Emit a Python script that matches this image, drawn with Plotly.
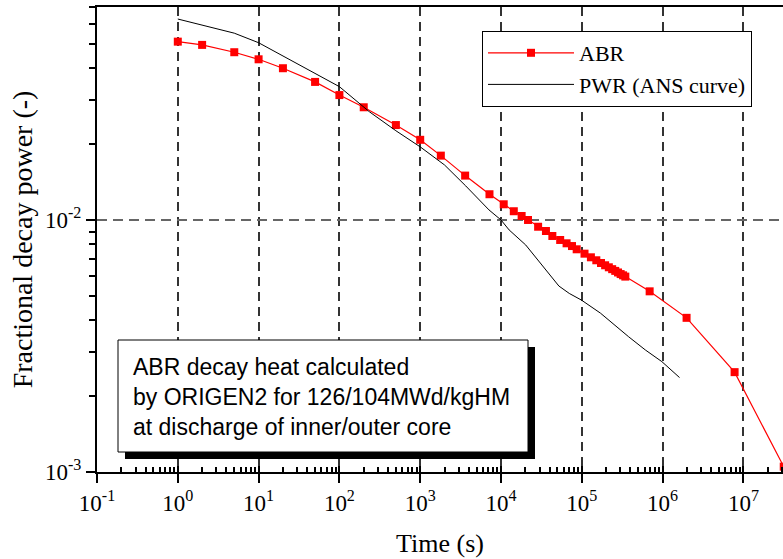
import plotly.graph_objects as go

# ---- data ----
abr_t = [1, 2, 5, 10, 20, 50, 100, 200, 500, 1000, 1800, 3600, 7200, 10800, 14400,
         18000, 21600, 28800, 36000, 43200, 54000, 64800, 75600, 86400, 108000,
         129600, 151200, 172800, 194400, 216000, 237600, 259200, 280800, 302400,
         324000, 345600, 691200, 1.98e6, 7.78e6, 3.156e7]
abr_p = [0.0510, 0.0495, 0.0463, 0.0434, 0.0400, 0.0353, 0.0313, 0.0280, 0.0238,
         0.0208, 0.0180, 0.0150, 0.01265, 0.01154, 0.01083, 0.01037, 0.0100,
         0.00940, 0.00904, 0.00864, 0.00833, 0.00808, 0.00788, 0.00765, 0.00735,
         0.00711, 0.00692, 0.00675, 0.00661, 0.00649, 0.00638, 0.00628, 0.00619,
         0.00610, 0.00603, 0.00596, 0.00521, 0.00409, 0.00249, 0.00105]

pwr_t = [1, 2, 5, 10, 20, 50, 100, 234, 500, 1000, 2000, 3660, 7100, 10000, 12600,
         20200, 32400, 42000, 52000, 70000, 99000, 170000, 315000, 380000, 611000,
         980000, 1.62e6]
pwr_p = [0.0627, 0.0594, 0.0551, 0.0505, 0.0448, 0.0382, 0.0338, 0.0269, 0.0226,
         0.0195, 0.01653, 0.01365, 0.01096, 0.0100, 0.00913, 0.00796, 0.00663,
         0.00600, 0.00547, 0.00511, 0.00481, 0.00427, 0.00360, 0.00344, 0.00305,
         0.00274, 0.00237]

x_exps = [-1, 0, 1, 2, 3, 4, 5, 6, 7]
y_exps = [-3, -2]
x_ticktext = ["10<sup>%d</sup>" % e for e in x_exps]
y_ticktext = ["10<sup>%d</sup>" % e for e in y_exps]

x_major = [10.0 ** e for e in x_exps]
y_major = [10.0 ** e for e in y_exps]
x_minor = [k * 10.0 ** e for e in x_exps for k in range(2, 10)]
y_minor = [k * 1e-3 for k in range(2, 10)] + [k * 1e-2 for k in range(2, 8)]

X_RANGE = [-1, 7.49]
Y_RANGE = [-3, -1.155]

SERIF = "Liberation Serif, Times New Roman, serif"
SANS = "Liberation Sans, Arial, sans-serif"

fig = go.Figure()
fig.add_trace(go.Scatter(
    x=abr_t, y=abr_p, name="ABR", mode="lines+markers",
    line=dict(color="#FF0000", width=1.2),
    marker=dict(symbol="square", size=8, color="#FF0000"),
))
fig.add_trace(go.Scatter(
    x=pwr_t, y=pwr_p, name="PWR (ANS curve)", mode="lines",
    line=dict(color="black", width=1),
))
# helper trace for the overlay axis carrying the inward half of the major ticks
fig.add_trace(go.Scatter(x=[], y=[], xaxis="x2", showlegend=False, hoverinfo="skip"))

W, H = 783, 559
ML, MR, MT, MB = 97, 0, 7, 87
PW = W - ML - MR
PH = H - MT - MB


def px_x(p):
    return (p - ML) / PW


def px_y(p):
    return (H - MB - p) / PH


# text box with drop shadow
fig.add_shape(type="rect", xref="paper", yref="paper",
              x0=px_x(125), x1=px_x(535), y0=px_y(459), y1=px_y(347),
              fillcolor="black", line=dict(width=0), layer="above")
fig.add_shape(type="rect", xref="paper", yref="paper",
              x0=px_x(118), x1=px_x(528), y0=px_y(452), y1=px_y(340),
              fillcolor="white", line=dict(color="black", width=1), layer="above")
fig.add_annotation(
    xref="paper", yref="paper", x=px_x(131), y=px_y(397),
    xanchor="left", yanchor="middle", align="left", showarrow=False,
    text="ABR decay heat calculated<br>by ORIGEN2 for 126/104MWd/kgHM<br>at discharge of inner/outer core",
    font=dict(family=SANS, size=23, color="black"),
)

fig.update_layout(
    width=W, height=H,
    margin=dict(l=ML, r=MR, t=MT, b=MB, pad=0),
    paper_bgcolor="white", plot_bgcolor="white",
    showlegend=True,
    legend=dict(
        x=px_x(482), y=px_y(31), xanchor="left", yanchor="top",
        bgcolor="white", bordercolor="black", borderwidth=1,
        font=dict(family=SERIF, size=22, color="black"),
        itemwidth=86, tracegroupgap=0,
    ),
    xaxis=dict(
        type="log", range=X_RANGE,
        tickvals=x_major, ticktext=x_ticktext,
        ticks="outside", ticklen=9, tickwidth=2, tickcolor="black",
        showline=True, linecolor="black", linewidth=2, mirror=True,
        showgrid=True, gridcolor="#333333", griddash="9px,6px", gridwidth=1.5,
        zeroline=False,
        tickfont=dict(family=SERIF, size=23, color="black"),
        title=dict(text="Time (s)", font=dict(family=SERIF, size=26, color="black"), standoff=19),
        minor=dict(tickvals=x_minor, ticks="inside", ticklen=5, tickwidth=1.5,
                   tickcolor="black", showgrid=False),
    ),
    xaxis2=dict(
        type="log", range=X_RANGE, overlaying="x", anchor="y", side="bottom",
        tickvals=x_major, ticks="inside", ticklen=6, tickwidth=2, tickcolor="black",
        showticklabels=False, showgrid=False, showline=False, zeroline=False,
    ),
    yaxis=dict(
        type="log", range=Y_RANGE,
        tickvals=y_major, ticktext=y_ticktext,
        ticks="outside", ticklen=9, tickwidth=2, tickcolor="black",
        showline=True, linecolor="black", linewidth=2, mirror=False,
        showgrid=True, gridcolor="#666666", griddash="10px,6px", gridwidth=1.5,
        zeroline=False,
        tickfont=dict(family=SERIF, size=23, color="black"),
        title=dict(text="Fractional decay power (-)", font=dict(family=SERIF, size=28, color="black"), standoff=4),
        minor=dict(tickvals=y_minor, ticks="outside", ticklen=6, tickwidth=1.5,
                   tickcolor="black", showgrid=False),
    ),
)

fig.write_html("out.html")
